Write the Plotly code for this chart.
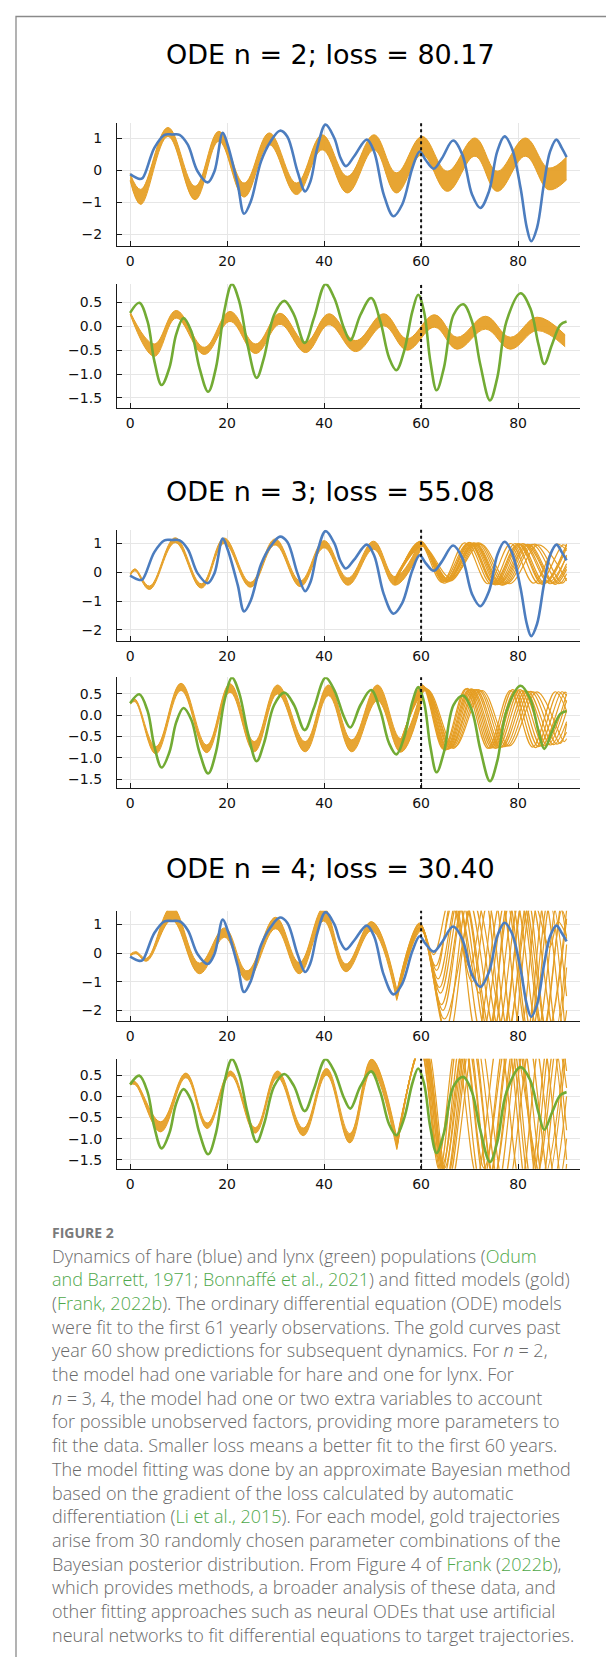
import plotly.graph_objects as go

# ---------------- data ----------------
x_ticks = [0, 20, 40, 60, 80]
hare_ticks = [-2, -1, 0, 1]
hare_tick_text = ["−2", "−1", "0", "1"]
lynx_ticks = [-1.5, -1.0, -0.5, 0.0, 0.5]
lynx_tick_text = ["−1.5", "−1.0", "−0.5", "0.0", "0.5"]
titles = ["ODE n = 2; loss = 80.17", "ODE n = 3; loss = 55.08", "ODE n = 4; loss = 30.40"]
fit_cutoff = 60

# observed hare (blue)
hare_x = [0.0, 1.9, 2.6, 5.0, 7.1, 8.7, 10.2, 11.9, 13.9, 16.0, 17.4, 19.1, 20.1, 22.2, 23.5, 24.9, 27.0,
          29.0, 30.9, 32.4, 34.5, 36.1, 37.2, 38.6, 40.3, 42.1, 43.4, 44.5, 46.2, 48.8, 50.3, 52.3, 54.3,
          56.1, 58.2, 59.7, 60.9, 62.6, 64.3, 66.6, 68.5, 70.5, 72.2, 74.0, 75.7, 77.2, 78.7, 80.5, 81.8,
          82.7, 83.9, 85.3, 86.6, 87.9, 89.0, 90.0]
hare_y = [-0.12, -0.27, -0.24, 0.70, 1.11, 1.12, 1.11, 0.80, -0.03, -0.38, -0.03, 1.17, 0.80, -0.45, -1.36,
          -0.97, 0.28, 0.91, 1.24, 1.06, -0.03, -0.66, -0.34, 0.70, 1.43, 1.01, 0.38, 0.13, 0.44, 0.96, 0.59,
          -0.76, -1.44, -1.07, 0.07, 0.59, 0.33, 0.05, 0.38, 0.93, 0.49, -0.76, -1.18, -0.66, 0.59, 1.06, 0.70,
          -0.55, -1.80, -2.22, -1.80, -0.45, 0.59, 0.96, 0.70, 0.41]

# observed lynx (green)
lynx_x = [0.0, 1.9, 3.6, 5.0, 6.5, 8.1, 9.5, 11.0, 12.6, 14.3, 16.1, 17.7, 19.4, 21.0, 22.5, 24.2, 26.1,
          27.6, 29.7, 31.8, 33.8, 36.0, 37.9, 40.3, 42.1, 44.1, 45.4, 47.5, 49.7, 51.6, 53.4, 54.9, 56.5,
          58.2, 59.4, 60.6, 61.9, 63.2, 64.7, 66.7, 68.7, 70.5, 72.2, 74.2, 75.7, 77.6, 80.5, 82.5, 84.2,
          85.4, 87.0, 88.7, 90.0]
lynx_y = [0.28, 0.49, 0.10, -0.73, -1.23, -0.87, -0.17, 0.17, -0.10, -0.87, -1.37, -0.87, 0.31, 0.88, 0.52,
          -0.38, -1.08, -0.66, 0.24, 0.53, 0.24, -0.35, 0.17, 0.88, 0.59, -0.04, -0.29, 0.24, 0.59, 0.10,
          -0.66, -0.92, -0.52, 0.31, 0.66, 0.31, -0.73, -1.34, -0.87, 0.24, 0.46, 0.10, -0.80, -1.55, -1.08,
          0.10, 0.69, 0.38, -0.38, -0.79, -0.38, 0.03, 0.10]

# gold model bands (extreme points, upper and lower edge of the 30 trajectories)
n2_hare_band_x = [0, 2.2, 7.8, 13.4, 18.3, 23.5, 28.7, 34.3, 39.6, 44.8, 50.3, 54.9, 60.2, 65.4, 71.1, 75.7, 81.5, 86.3, 90]
n2_hare_band_hi = [-0.10, -0.60, 1.34, -0.50, 1.22, -0.40, 1.17, -0.40, 1.11, -0.19, 1.11, -0.08, 1.06, -0.03, 1.01, -0.03, 1.01, 0.07, 0.42]
n2_hare_band_lo = [-0.32, -1.07, 1.06, -0.92, 0.91, -0.84, 0.80, -0.76, 0.64, -0.71, 0.64, -0.71, 0.49, -0.66, 0.44, -0.66, 0.44, -0.61, -0.30]

n2_lynx_band_x = [0, 5.0, 9.5, 15.3, 20.6, 25.9, 30.9, 36.2, 41.0, 46.5, 52.3, 57.1, 62.8, 67.4, 73.3, 78.4, 83.9, 89.7]
n2_lynx_band_hi = [0.30, -0.37, 0.33, -0.44, 0.31, -0.37, 0.27, -0.33, 0.26, -0.30, 0.26, -0.26, 0.24, -0.23, 0.21, -0.23, 0.19, -0.18]
n2_lynx_band_lo = [0.25, -0.63, 0.17, -0.59, 0.10, -0.57, 0.04, -0.55, 0.03, -0.53, 0.01, -0.50, -0.02, -0.48, -0.06, -0.48, -0.09, -0.43]

n3_hare_band_x = [0, 1.0, 4.0, 9.3, 14.7, 19.4, 24.8, 29.9, 35.1, 40.0, 44.9, 50.2, 54.6, 59.8]
n3_hare_band_hi = [-0.05, 0.12, -0.48, 1.20, -0.40, 1.19, -0.35, 1.16, -0.30, 1.10, -0.20, 1.08, -0.15, 1.08]
n3_hare_band_lo = [-0.12, 0.05, -0.60, 1.03, -0.55, 1.00, -0.52, 0.95, -0.50, 0.85, -0.45, 0.80, -0.45, 0.75]

n3_lynx_band_x = [0, 1.0, 5.3, 10.5, 15.8, 20.6, 25.6, 30.4, 36.1, 40.9, 45.7, 51.0, 55.8, 60.3]
n3_lynx_band_hi = [0.31, 0.38, -0.74, 0.75, -0.70, 0.74, -0.62, 0.71, -0.62, 0.71, -0.58, 0.71, -0.55, 0.72]
n3_lynx_band_lo = [0.26, 0.32, -0.91, 0.58, -0.88, 0.54, -0.86, 0.50, -0.86, 0.46, -0.86, 0.34, -0.87, 0.40]

n4_hare_band_x = [0, 1.2, 3.4, 8.6, 14.3, 19.5, 24.1, 30.0, 34.9, 39.9, 44.5, 49.8, 55.0]
n4_hare_band_hi = [-0.04, 0.05, -0.18, 1.62, -0.35, 0.88, -0.62, 1.25, -0.33, 1.58, -0.38, 1.10, -1.28]
n4_hare_band_lo = [-0.10, -0.02, -0.28, 1.15, -0.72, 0.55, -0.95, 0.85, -0.72, 1.12, -0.65, 0.78, -1.66]

n4_lynx_band_x = [0, 1.0, 6.3, 11.5, 15.9, 20.7, 25.8, 30.4, 35.7, 40.5, 45.3, 49.8, 55.0]
n4_lynx_band_hi = [0.33, 0.35, -0.60, 0.55, -0.63, 0.60, -0.74, 0.60, -0.75, 0.66, -0.88, 0.88, -0.98]
n4_lynx_band_lo = [0.27, 0.28, -0.84, 0.44, -0.76, 0.49, -0.87, 0.44, -0.93, 0.50, -1.10, 0.60, -1.26]

# individual gold trajectories where they spread apart (x, y) points
n3_hare_post = [
    [(54.6, -0.40), (59.6, 1.05), (64.3, -0.35), (69.0, 1.02), (73.8, -0.40), (78.5, 1.00), (83.2, -0.38), (88.0, 0.98), (90, 0.75)],
    [(54.6, -0.35), (59.8, 1.02), (64.6, -0.30), (69.6, 1.00), (74.5, -0.42), (79.4, 1.00), (84.3, -0.40), (89.2, 0.95), (90, 0.90)],
    [(54.6, -0.30), (59.9, 1.00), (65.0, -0.28), (70.3, 1.00), (75.3, -0.44), (80.5, 0.98), (85.5, -0.38), (90, 0.85)],
    [(54.6, -0.25), (60.0, 0.98), (65.3, -0.30), (70.8, 1.02), (76.0, -0.42), (81.4, 0.97), (86.6, -0.40), (90, 0.60)],
    [(54.6, -0.20), (60.1, 0.95), (65.6, -0.25), (71.3, 1.00), (76.8, -0.45), (82.3, 0.96), (87.6, -0.42), (90, 0.10)],
    [(54.6, -0.30), (60.2, 0.92), (66.0, -0.30), (71.9, 1.02), (77.6, -0.40), (83.4, 0.98), (89.0, -0.38), (90, -0.20)],
    [(54.6, -0.40), (59.9, 1.08), (64.8, -0.38), (69.9, 1.04), (74.9, -0.40), (80.0, 1.00), (85.0, -0.42), (90, 0.98)],
    [(54.6, -0.38), (60.0, 1.04), (65.2, -0.32), (70.6, 1.00), (75.7, -0.43), (81.0, 1.00), (86.2, -0.35), (90, 0.55)],
    [(54.6, -0.28), (60.1, 0.97), (65.4, -0.34), (71.0, 0.98), (76.3, -0.38), (81.8, 0.94), (87.1, -0.36), (90, 0.30)],
    [(54.6, -0.33), (60.3, 0.90), (66.2, -0.20), (72.3, 0.98), (78.2, -0.40), (84.2, 0.95), (90, -0.30)],
    [(54.6, -0.36), (59.9, 1.03), (64.9, -0.33), (70.1, 1.03), (75.1, -0.41), (80.2, 0.99), (85.2, -0.40), (90, 0.95)],
    [(54.6, -0.27), (60.1, 0.96), (65.5, -0.27), (71.1, 1.01), (76.5, -0.44), (82.0, 0.97), (87.3, -0.39), (90, 0.20)],
    [(54.6, -0.31), (60.2, 0.93), (65.8, -0.29), (71.6, 1.01), (77.2, -0.42), (82.9, 0.97), (88.4, -0.40), (90, -0.05)],
]
n3_lynx_post = [
    [(55.8, -0.85), (60.2, 0.70), (64.6, -0.80), (69.2, 0.62), (73.8, -0.78), (78.4, 0.58), (83.0, -0.75), (87.6, 0.55), (90, 0.10)],
    [(55.8, -0.80), (60.4, 0.68), (65.0, -0.82), (69.8, 0.60), (74.6, -0.77), (79.4, 0.58), (84.2, -0.74), (89.0, 0.55), (90, 0.45)],
    [(55.8, -0.75), (60.6, 0.66), (65.4, -0.80), (70.4, 0.62), (75.4, -0.78), (80.4, 0.60), (85.4, -0.72), (90, 0.50)],
    [(55.8, -0.70), (60.8, 0.64), (65.9, -0.78), (71.1, 0.60), (76.3, -0.76), (81.5, 0.57), (86.7, -0.70), (90, 0.10)],
    [(55.8, -0.65), (61.0, 0.62), (66.4, -0.76), (71.8, 0.60), (77.2, -0.74), (82.6, 0.56), (88.0, -0.68), (90, -0.40)],
    [(55.8, -0.60), (61.3, 0.60), (66.9, -0.75), (72.6, 0.58), (78.2, -0.72), (83.9, 0.55), (89.5, -0.62), (90, -0.55)],
    [(55.8, -0.82), (60.3, 0.70), (64.8, -0.80), (69.5, 0.63), (74.2, -0.78), (78.9, 0.60), (83.6, -0.76), (88.3, 0.55), (90, 0.30)],
    [(55.8, -0.72), (60.7, 0.65), (65.6, -0.80), (70.7, 0.60), (75.8, -0.76), (80.9, 0.58), (86.0, -0.70), (90, 0.35)],
    [(55.8, -0.62), (61.1, 0.61), (66.6, -0.78), (72.2, 0.58), (77.7, -0.73), (83.2, 0.55), (88.7, -0.66), (90, -0.20)],
    [(55.8, -0.78), (60.5, 0.67), (65.2, -0.81), (70.1, 0.61), (75.0, -0.77), (79.9, 0.59), (84.8, -0.73), (89.6, 0.54), (90, 0.52)],
    [(55.8, -0.67), (60.9, 0.63), (66.1, -0.77), (71.4, 0.60), (76.7, -0.75), (82.0, 0.56), (87.3, -0.69), (90, -0.15)],
]
n4_hare_post = [
    [(55, -1.35), (59.7, 1.05), (62.6, -0.05), (66.0, 1.9), (70.5, -1.0), (73.8, 1.8), (78.0, -2.8), (82.0, 1.9), (86.0, -2.8), (90, 1.5)],
    [(55, -1.40), (59.8, 1.00), (63.0, -0.45), (66.8, 1.9), (71.5, -2.9), (76.5, 1.9), (80.5, -2.7), (84.2, 1.9), (88.0, -2.8), (90, -0.5)],
    [(55, -1.45), (59.9, 0.95), (63.5, -0.90), (67.5, 1.9), (72.5, -2.9), (77.5, 1.9), (81.8, -2.8), (85.5, 1.9), (89.3, -2.6), (90, -2.0)],
    [(55, -1.50), (59.9, 0.90), (64.0, -1.40), (68.3, 1.9), (73.6, -2.9), (78.5, 1.9), (82.8, -2.8), (86.8, 1.9), (90, -1.5)],
    [(55, -1.55), (60.0, 0.85), (64.5, -2.00), (69.0, 1.9), (74.6, -2.9), (79.5, 1.9), (84.0, -2.7), (88.2, 1.9), (90, 0.5)],
    [(55, -1.60), (60.0, 0.80), (65.0, -2.70), (69.8, 1.9), (75.5, -2.9), (80.4, 1.9), (85.0, -2.8), (89.0, 1.5), (90, 1.0)],
    [(55, -1.62), (60.1, 0.78), (65.5, -3.00), (70.6, 1.9), (76.5, -2.9), (81.2, 1.9), (86.0, -2.8), (90, 1.2)],
    [(55, -1.42), (59.8, 0.98), (64.8, -2.30), (71.2, 1.9), (77.5, -2.9), (82.6, 1.9), (87.5, -2.8), (90, 0.3)],
    [(55, -1.38), (59.7, 1.02), (63.8, -1.20), (67.6, 1.8), (72.0, -1.4), (75.2, 1.9), (79.0, -2.8), (83.0, 1.9), (86.5, 0.2), (88.2, 1.1), (90, 0.6)],
    [(55, -1.48), (59.9, 0.92), (64.2, -1.80), (68.9, 1.9), (74.0, -2.9), (78.0, 1.9), (82.2, -2.8), (86.3, 1.9), (89.6, -2.5)],
    [(55, -1.52), (60.0, 0.88), (63.2, -0.60), (66.4, 1.9), (70.0, -0.5), (73.2, 1.9), (77.0, -2.8), (81.0, 1.9), (85.2, -2.8), (89.2, 1.9), (90, 1.6)],
]
n4_lynx_post = [
    [(55, -1.25), (59.8, 1.15), (63.8, -1.75), (67.8, 1.4), (72.5, -2.2), (77.5, 1.5), (82.0, -2.3), (86.5, 1.5), (90, -1.5)],
    [(55, -1.20), (60.0, 1.20), (64.2, -1.85), (68.5, 1.5), (73.5, -2.3), (78.5, 1.5), (83.2, -2.3), (87.8, 1.4), (90, 0.2)],
    [(55, -1.15), (60.2, 1.25), (64.6, -1.95), (69.2, 1.5), (74.5, -2.3), (79.6, 1.5), (84.4, -2.3), (89.0, 1.4), (90, 1.0)],
    [(55, -1.10), (60.4, 1.30), (65.0, -2.05), (70.0, 1.6), (75.5, -2.3), (80.6, 1.5), (85.6, -2.2), (90, 1.2)],
    [(55, -1.05), (60.6, 1.30), (65.4, -2.10), (70.8, 1.6), (76.5, -2.3), (81.8, 1.5), (86.8, -2.2), (90, 0.0)],
    [(55, -1.00), (60.8, 1.35), (65.8, -2.20), (71.6, 1.6), (77.5, -2.3), (83.0, 1.5), (88.0, -2.2), (90, -1.0)],
    [(55, -1.22), (59.9, 1.10), (63.6, -1.45), (67.2, 1.2), (71.5, -1.9), (76.0, 1.4), (80.5, -2.1), (84.8, 1.5), (89.2, -2.2), (90, -1.6)],
    [(55, -1.18), (60.1, 1.20), (64.4, -1.60), (68.9, 1.3), (73.0, -1.7), (78.0, 1.5), (82.6, -2.2), (87.0, 1.5), (90, -0.8)],
    [(55, -1.08), (60.5, 1.30), (65.2, -2.00), (70.4, 1.6), (75.0, -1.9), (80.0, 1.5), (84.0, -1.8), (88.4, 1.5), (90, 0.6)],
    [(55, -1.12), (60.3, 1.25), (64.8, -1.70), (69.6, 1.5), (74.0, -2.0), (78.8, 1.4), (85.0, -2.0), (89.5, 1.0)],
]

caption_lines = [
    'Dynamics of hare (blue) and lynx (green) populations (<span style="color:#4fa84a">Odum</span>',
    '<span style="color:#4fa84a">and Barrett, 1971</span>; <span style="color:#4fa84a">Bonnaffé et al., 2021</span>) and fitted models (gold)',
    '(<span style="color:#4fa84a">Frank, 2022b</span>). The ordinary differential equation (ODE) models',
    'were fit to the first 61 yearly observations. The gold curves past',
    'year 60 show predictions for subsequent dynamics. For <i>n</i> = 2,',
    'the model had one variable for hare and one for lynx. For',
    '<i>n</i> = 3, 4, the model had one or two extra variables to account',
    'for possible unobserved factors, providing more parameters to',
    'fit the data. Smaller loss means a better fit to the first 60 years.',
    'The model fitting was done by an approximate Bayesian method',
    'based on the gradient of the loss calculated by automatic',
    'differentiation (<span style="color:#4fa84a">Li et al., 2015</span>). For each model, gold trajectories',
    'arise from 30 randomly chosen parameter combinations of the',
    'Bayesian posterior distribution. From Figure 4 of <span style="color:#4fa84a">Frank</span> (<span style="color:#4fa84a">2022b</span>),',
    'which provides methods, a broader analysis of these data, and',
    'other fitting approaches such as neural ODEs that use artificial',
    'neural networks to fit differential equations to target trajectories.',
]

# ---------------- layout / styling ----------------
W, H = 614, 1657
X0, X1 = 109, 571.7
HARE_RANGE = [-2.38, 1.48]
LYNX_RANGE = [-1.71, 0.89]
GOLD = "#E59E24"
GOLD_FILL = "rgba(229,158,36,0.93)"
BLUE = "#4C7DBF"
GREEN = "#72AB34"

panels = [
    dict(top=115.0, bot=238.3, kind="hare", band=(n2_hare_band_x, n2_hare_band_hi, n2_hare_band_lo), post=[]),
    dict(top=275.7, bot=400.0, kind="lynx", band=(n2_lynx_band_x, n2_lynx_band_hi, n2_lynx_band_lo), post=[]),
    dict(top=521.7, bot=632.7, kind="hare", band=(n3_hare_band_x, n3_hare_band_hi, n3_hare_band_lo), post=n3_hare_post),
    dict(top=669.3, bot=780.0, kind="lynx", band=(n3_lynx_band_x, n3_lynx_band_hi, n3_lynx_band_lo), post=n3_lynx_post),
    dict(top=902.7, bot=1013.3, kind="hare", band=(n4_hare_band_x, n4_hare_band_hi, n4_hare_band_lo), post=n4_hare_post),
    dict(top=1050.7, bot=1160.7, kind="lynx", band=(n4_lynx_band_x, n4_lynx_band_hi, n4_lynx_band_lo), post=n4_lynx_post),
]
title_y = [47.0, 484.0, 861.0]
title_cx = 322
figure_label_y = 1224.0
caption_top = 1247.5
caption_step = 23.7

fig = go.Figure()
tick_font = dict(family="DejaVu Sans", size=14, color="#111111")
axis_common = dict(showline=True, linecolor="#1a1a1a", linewidth=1.3, ticks="inside", ticklen=5,
                   tickwidth=1, tickcolor="#1a1a1a", showgrid=True, gridcolor="#e6e6e6", gridwidth=1,
                   zeroline=False, tickfont=tick_font, fixedrange=True)

for i, p in enumerate(panels, start=1):
    xa = "x" if i == 1 else f"x{i}"
    ya = "y" if i == 1 else f"y{i}"
    sfx = "" if i == 1 else str(i)
    common = dict(xaxis=xa, yaxis=ya, mode="lines", hoverinfo="skip", showlegend=False)
    bx, bhi, blo = p["band"]
    fig.add_trace(go.Scatter(x=bx, y=blo, line=dict(color=GOLD, width=1, shape="spline", smoothing=1.1), **common))
    fig.add_trace(go.Scatter(x=bx, y=bhi, fill="tonexty", fillcolor=GOLD_FILL,
                             line=dict(color=GOLD, width=1, shape="spline", smoothing=1.1), **common))
    for traj in p["post"]:
        fig.add_trace(go.Scatter(x=[t[0] for t in traj], y=[t[1] for t in traj],
                                 line=dict(color=GOLD, width=1.2, shape="spline", smoothing=1.0), **common))
    if p["kind"] == "hare":
        ox, oy, col, rng, tv, tt = hare_x, hare_y, BLUE, HARE_RANGE, hare_ticks, hare_tick_text
    else:
        ox, oy, col, rng, tv, tt = lynx_x, lynx_y, GREEN, LYNX_RANGE, lynx_ticks, lynx_tick_text
    fig.add_trace(go.Scatter(x=ox, y=oy, line=dict(color=col, width=2.6, shape="spline", smoothing=1.0), **common))
    fig.add_shape(type="line", xref=xa, yref=f"{ya} domain", x0=fit_cutoff, x1=fit_cutoff, y0=0, y1=1,
                  line=dict(color="#111111", width=2, dash="dot"), layer="above")
    fig.update_layout(**{
        f"xaxis{sfx}": dict(domain=[X0 / W, X1 / W], range=[-2.7, 92.7], tickvals=x_ticks, anchor=ya,
                            ticklabelstandoff=2, **axis_common),
        f"yaxis{sfx}": dict(domain=[1 - p["bot"] / H, 1 - p["top"] / H], range=rng, tickvals=tv, ticktext=tt,
                            anchor=xa, ticklabelstandoff=11, **axis_common),
    })

annotations = []
for t, ty in zip(titles, title_y):
    annotations.append(dict(text=t, xref="paper", yref="paper", x=title_cx / W, y=1 - ty / H, xanchor="center",
                            yanchor="middle", showarrow=False,
                            font=dict(family="DejaVu Sans", size=27, color="#000000")))
annotations.append(dict(text="<b>FIGURE 2</b>", xref="paper", yref="paper", x=42 / W, y=1 - figure_label_y / H,
                        xanchor="left", yanchor="middle", showarrow=False,
                        font=dict(family="Open Sans", size=14, color="#7a7a7a")))
for k, line in enumerate(caption_lines):
    annotations.append(dict(text=line, xref="paper", yref="paper", x=42 / W,
                            y=1 - (caption_top + k * caption_step) / H, xanchor="left", yanchor="middle",
                            showarrow=False, align="left",
                            font=dict(family="Open Sans", size=18, color="#6a6a6a", weight=300)))

fig.add_shape(type="rect", xref="paper", yref="paper", x0=8 / W, x1=609 / W, y0=-0.05, y1=1 - 8.5 / H,
              line=dict(color="#8a8a8a", width=1.3), fillcolor="rgba(0,0,0,0)", layer="below")

fig.update_layout(width=W, height=H, margin=dict(l=0, r=0, t=0, b=0), paper_bgcolor="white",
                  plot_bgcolor="white", annotations=annotations, showlegend=False)

fig.write_html("out.html")
